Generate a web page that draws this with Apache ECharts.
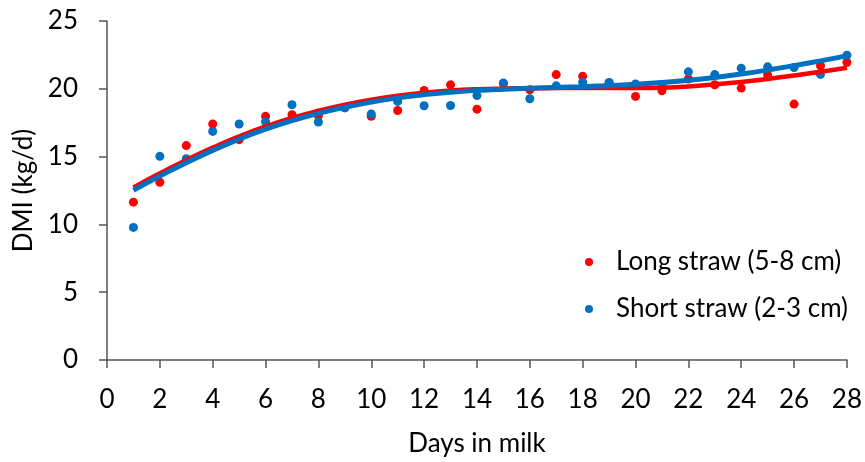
<!DOCTYPE html>
<html>
<head>
<meta charset="utf-8">
<script src="https://cdn.jsdelivr.net/npm/echarts@6/dist/echarts.min.js"></script>
<style>html,body{margin:0;padding:0;background:#fff}#c{width:865px;height:462px}</style>
</head>
<body>
<div id="c"></div>
<script>
const days = [1,2,3,4,5,6,7,8,9,10,11,12,13,14,15,16,17,18,19,20,21,22,23,24,25,26,27,28];
const longStraw = [11.64,13.11,15.81,17.4,16.25,17.97,18.09,18.01,18.6,17.97,18.4,19.88,20.29,18.5,20.4,19.93,21.05,20.92,20.45,19.44,19.85,20.72,20.3,20.05,21.03,18.87,21.7,21.95];
const shortStraw = [9.78,15.02,14.85,16.86,17.4,17.58,18.82,17.55,18.6,18.15,19.07,18.75,18.77,19.5,20.42,19.27,20.22,20.49,20.47,20.35,20.3,21.25,21.05,21.52,21.62,21.57,21.06,22.48];
const longFit = [12.72,13.77,14.75,15.66,16.49,17.22,17.85,18.38,18.83,19.2,19.49,19.71,19.87,19.97,20.02,20.04,20.05,20.05,20.05,20.05,20.08,20.17,20.32,20.5,20.72,20.98,21.25,21.55];
const shortFit = [12.52,13.57,14.55,15.46,16.29,17.02,17.65,18.19,18.64,19.02,19.33,19.57,19.75,19.88,19.97,20.04,20.1,20.16,20.23,20.33,20.46,20.63,20.84,21.09,21.38,21.71,22.06,22.43];
const xTicks = {min:0, max:28, interval:2};
const yTicks = {min:0, max:25, interval:5};
const names = ['Long straw (5-8 cm)', 'Short straw (2-3 cm)'];

const pair = (xs, ys) => xs.map((x, i) => [x, ys[i]]);
const font = 'Lato, "Open Sans", sans-serif';
const chart = echarts.init(document.getElementById('c'), null, {renderer:'canvas'});
chart.setOption({
  animation: false,
  backgroundColor: '#fff',
  textStyle: {fontFamily: font},
  grid: {left: 107, right: 17, top: 21, bottom: 101},
  legend: {
    orient: 'vertical', left: 580, top: 244,
    data: names, icon: 'circle', itemWidth: 8, itemHeight: 8, itemGap: 21,
    textStyle: {fontFamily: font, fontSize: 26, color: '#000', padding: [0,0,0,18]}
  },
  xAxis: {
    type: 'value', min: xTicks.min, max: xTicks.max, interval: xTicks.interval,
    name: 'Days in milk', nameLocation: 'middle', nameGap: 71,
    nameTextStyle: {fontFamily: font, fontSize: 26, color: '#000'},
    axisLine: {show: true, lineStyle: {color: '#555', width: 1.5}},
    axisTick: {show: true, length: 8, lineStyle: {color: '#555', width: 1.5}},
    axisLabel: {fontFamily: font, fontSize: 26, color: '#000', margin: 27},
    splitLine: {show: false}
  },
  yAxis: {
    type: 'value', min: yTicks.min, max: yTicks.max, interval: yTicks.interval,
    name: 'DMI (kg/d)', nameLocation: 'middle', nameGap: 70, nameRotate: 90,
    nameTextStyle: {fontFamily: font, fontSize: 26, color: '#000'},
    axisLine: {show: true, lineStyle: {color: '#555', width: 1.5}},
    axisTick: {show: true, length: 8, lineStyle: {color: '#555', width: 1.5}},
    axisLabel: {fontFamily: font, fontSize: 26, color: '#000', margin: 29},
    splitLine: {show: false}
  },
  series: [
    {name: names[0], type: 'scatter', data: pair(days, longStraw), symbolSize: 9,
     itemStyle: {color: '#FF0000', opacity: 1}, z: 2},
    {name: names[1], type: 'scatter', data: pair(days, shortStraw), symbolSize: 9,
     itemStyle: {color: '#0070C0', opacity: 1}, z: 3},
    {name: 'Long fit', type: 'line', data: pair(days, longFit), smooth: true, showSymbol: false,
     lineStyle: {color: '#FF0000', width: 4.5}, itemStyle: {color: '#FF0000'}, z: 4},
    {name: 'Short fit', type: 'line', data: pair(days, shortFit), smooth: true, showSymbol: false,
     lineStyle: {color: '#0070C0', width: 5}, itemStyle: {color: '#0070C0'}, z: 5}
  ]
});
</script>
</body>
</html>
